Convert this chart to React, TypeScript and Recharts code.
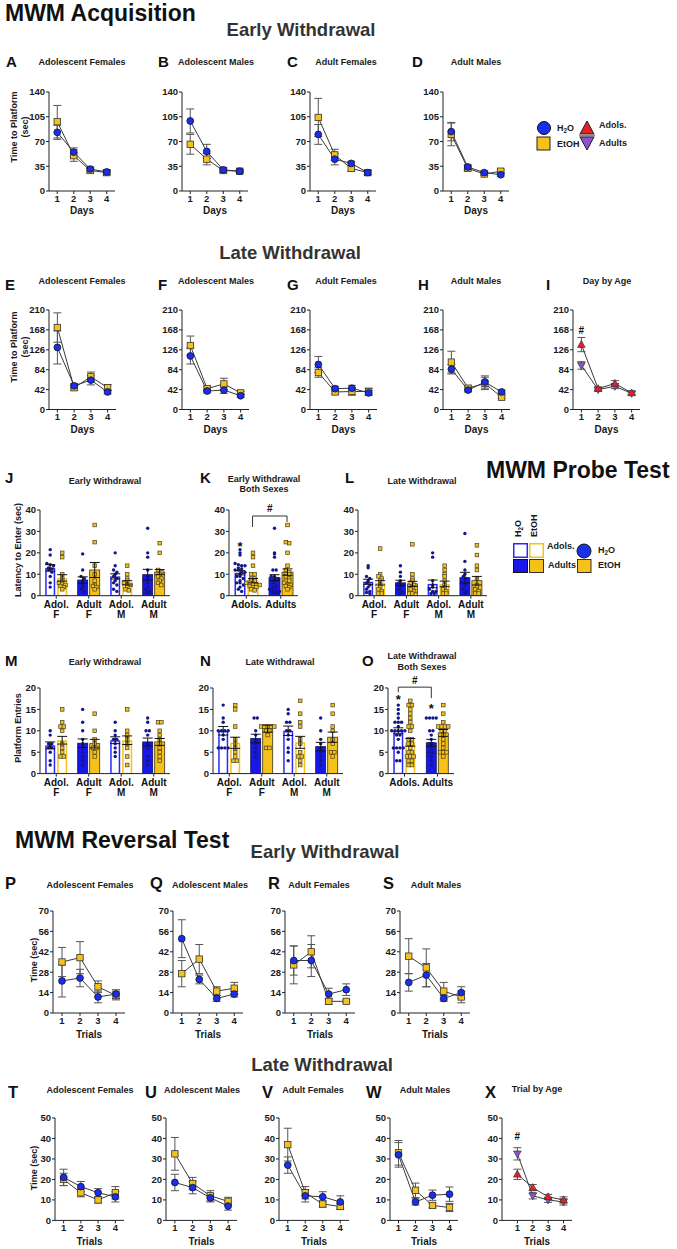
import React from "react";
import {
  LineChart,
  Line,
  XAxis,
  YAxis,
  ErrorBar,
  ComposedChart,
  Bar,
  ReferenceDot,
  ReferenceLine,
} from "recharts";

const FONT = '"Liberation Sans", Arial, Helvetica, sans-serif';

// ---------- line panels: [mean, sem] per day / trial ----------
const days = [1, 2, 3, 4];

// MWM acquisition, early withdrawal
const A_h2o = [[83, 10], [55, 6], [31, 3], [27, 3]];
const A_etoh = [[98, 23], [50, 8], [29, 3], [26, 3]];
const B_h2o = [[99, 17], [56, 10], [30, 3], [28, 2]];
const B_etoh = [[66, 14], [45, 8], [29, 3], [28, 2]];
const C_h2o = [[80, 14], [45, 8], [39, 3], [26, 3]];
const C_etoh = [[104, 27], [51, 8], [32, 4], [26, 3]];
const D_h2o = [[84, 13], [34, 3], [26, 2], [23, 2]];
const D_etoh = [[80, 16], [32, 3], [24, 2], [28, 2]];

// MWM acquisition, late withdrawal
const E_h2o = [[131, 35], [50, 5], [62, 10], [37, 4]];
const E_etoh = [[173, 31], [46, 5], [69, 10], [46, 6]];
const F_h2o = [[113, 17], [39, 4], [41, 7], [29, 3]];
const F_etoh = [[135, 20], [44, 4], [54, 12], [35, 3]];
const G_h2o = [[95, 17], [44, 5], [45, 6], [35, 5]];
const G_etoh = [[78, 10], [37, 4], [38, 8], [38, 7]];
const H_h2o = [[85, 10], [41, 4], [58, 13], [37, 4]];
const H_etoh = [[100, 23], [45, 4], [55, 13], [26, 3]];
const I_adols = [[137, 15], [44, 3], [55, 6], [35, 3]];
const I_adults = [[93, 8], [42, 3], [49, 5], [34, 3]];

// reversal, early withdrawal
const P_h2o = [[22, 11], [24, 6], [11, 4], [13, 3]];
const P_etoh = [[35, 10], [38, 11], [18, 4], [12, 3]];
const Q_h2o = [[51, 13], [23, 3], [10, 2], [13, 2]];
const Q_etoh = [[27, 9], [37, 10], [15, 3], [17, 4]];
const R_h2o = [[36, 10], [36, 11], [13, 4], [16, 4]];
const R_etoh = [[33, 13], [42, 11], [8, 2], [8, 1]];
const S_h2o = [[21, 6], [26, 8], [10, 2], [14, 4]];
const S_etoh = [[39, 12], [31, 13], [15, 6], [11, 4]];

// reversal, late withdrawal
const T_h2o = [[21, 4], [16.5, 2.5], [13.5, 2], [11.5, 2.5]];
const T_etoh = [[20, 3], [13.5, 2], [10, 1.5], [13.5, 3]];
const U_h2o = [[18.5, 4], [16, 3], [11, 2], [7, 2]];
const U_etoh = [[32.5, 8], [18, 3], [12, 2.5], [9.3, 2]];
const V_h2o = [[27, 4], [12, 3], [11.5, 2.5], [9, 3]];
const V_etoh = [[37, 8], [13.5, 3], [8, 1.5], [6.8, 1.5]];
const W_h2o = [[32, 6], [9, 1.5], [12.3, 2.5], [12.8, 3.5]];
const W_etoh = [[33, 6], [14.7, 3.5], [7.3, 1.2], [6.3, 2]];
const X_adols = [[22.5, 2.5], [16, 1.5], [11.5, 1.2], [10, 1.5]];
const X_adults = [[32.5, 3], [12, 1.5], [10, 1.2], [9, 1.5]];

// ---------- probe test bars (order: H2O, EtOH per group) ----------
const sexGroups = ["Adol.|F", "Adult|F", "Adol.|M", "Adult|M"];
const ageGroups = ["Adols.", "Adults"];

const J_means = [13, 8.3, 7.3, 12, 9, 6, 9.8, 11];
const J_sems = [1.5, 1.5, 1.5, 3.5, 1.2, 1, 2.5, 1.2];
const J_points = [
  [21.5, 19, 15, 14.5, 14, 13, 12.5, 12, 11, 9, 6, 4],
  [20, 18, 10, 8, 7, 6, 5.5, 5, 4.5, 4, 3],
  [19.5, 12, 9, 8, 7, 5, 4, 3, 2],
  [33, 25, 14, 10, 7, 5, 4.5, 4, 3],
  [20, 14, 12, 11, 10, 9, 8, 7, 6, 5, 3, 2],
  [14, 10, 8, 7, 6, 5, 5, 4, 3, 2.5],
  [31.5, 20, 18, 12, 9, 6, 4, 3, 2, 1.5, 1],
  [24.5, 20, 12, 11, 10, 9, 8, 7, 6, 5],
];

const K_means = [10.7, 7, 8.4, 11];
const K_sems = [1, 1, 1.4, 1.5];
const K_points = [
  [21.5, 20, 19, 15, 14.5, 14, 14, 13, 12.5, 12, 12, 11, 11, 10, 9, 9, 8, 7, 6, 6, 5, 4, 3, 2],
  [20, 18, 14, 10, 10, 8, 8, 7, 7, 6, 6, 5.5, 5, 5, 4.5, 4, 4, 3, 2.5],
  [31.5, 20, 19.5, 18, 12, 12, 9, 9, 8, 7, 6, 5, 4, 4, 3, 3, 2, 2, 1.5, 1],
  [33, 25, 24.5, 20, 14, 12, 11, 10, 10, 9, 8, 7, 7, 6, 5, 5, 4.5, 4, 3],
];

const L_means = [6.5, 6, 6, 5.5, 5.5, 5.5, 8.4, 7];
const L_sems = [1.2, 1, 1.2, 1.2, 1.8, 1.3, 2.5, 2];
const L_points = [
  [14, 13, 9, 8, 7, 6, 5, 4, 3, 2, 1.5, 1],
  [22, 10, 9, 8, 7, 5, 4, 3, 2, 1, 1],
  [14, 11, 9, 7, 6, 5, 4, 3, 2, 1],
  [24, 10, 8, 7, 6, 5, 4, 3, 2, 1, 1, 0.5],
  [20, 18, 7, 5, 4, 3, 2, 2, 1, 1],
  [14, 12, 10, 9, 7, 5, 4, 3, 2, 1, 1],
  [29, 16, 12, 10, 9, 8, 5, 3, 2, 1],
  [23.5, 19, 14, 12, 8, 5, 4, 3, 2, 1, 1],
];

const M_means = [6.6, 7.8, 7.1, 7, 7.8, 7.8, 7.4, 7.4];
const M_sems = [0.8, 0.9, 1, 1, 0.8, 1, 0.9, 0.8];
const M_points = [
  [10, 9, 7, 7, 6.5, 6, 6, 5, 3, 2],
  [15, 12, 11, 11, 10, 7, 6, 5, 4, 4],
  [15, 12, 10, 8, 7, 6, 5, 4, 3, 2],
  [14, 10, 8, 7, 6, 6, 5, 4],
  [12, 10, 9, 8, 8, 7, 6, 5, 4],
  [15, 10, 9, 8, 7, 6, 4, 2],
  [13, 12, 10, 10, 9, 7, 6, 4, 3, 2],
  [12, 12, 10, 9, 8, 7, 6, 5, 4, 3],
];

const N_means = [10, 7.2, 8.2, 10.5, 10, 7.3, 6.3, 8.5];
const N_sems = [1, 1.3, 1, 0.8, 1.1, 1.4, 1, 1.2];
const N_points = [
  [16, 13, 12, 10, 10, 10, 10, 9, 8, 6, 6, 6, 6],
  [16, 15, 11, 8, 7, 6, 5, 4, 3, 3],
  [13, 13, 10, 9, 8, 7, 6, 5, 4],
  [11, 11, 11, 11, 11, 10, 10, 9, 6, 6],
  [15, 14, 12, 12, 10, 10, 9, 8, 6, 5, 3],
  [17, 14, 12, 11, 8, 7, 5, 4, 4, 3, 2],
  [13, 10, 8, 7, 6, 5, 4, 3, 2],
  [16, 14, 11, 10, 8, 7, 5, 5, 4],
];

const O_means = [10, 7.3, 7.2, 9.5];
const O_sems = [0.7, 0.9, 0.8, 0.8];
const O_points = [
  [16, 15, 14, 13, 12, 12, 12, 11, 10, 10, 10, 10, 10, 9, 9, 8, 6, 6, 6, 6, 5, 3, 3],
  [17, 16, 16, 15, 14, 13, 12, 11, 11, 10, 8, 8, 7, 7, 6, 5, 5, 4, 4, 4, 3, 3, 2, 2],
  [13, 13, 13, 13, 10, 10, 9, 8, 7, 7, 6, 5, 5, 4, 3, 2],
  [16, 14, 12, 11, 11, 11, 11, 10, 10, 9, 8, 7, 6, 5, 5, 5, 4],
];

// ---------- styles ----------
const BLUE = "#1a30e8";
const BAR_BLUE = "#1717e8";
const YELLOW = "#f6c21a";
const RED = "#e81e25";
const PURPLE = "#9050d2";
const tickStyle = { fontSize: 9.5, fontWeight: 700, fill: "#1a1a1a", fontFamily: FONT };

const circleDot = (p: any) => (
  <circle key={`c${p.index}`} cx={p.cx} cy={p.cy} r={3.4} fill={BLUE} stroke="#101030" strokeWidth={0.8} />
);
const squareDot = (p: any) => (
  <rect key={`s${p.index}`} x={p.cx - 3.2} y={p.cy - 3.2} width={6.4} height={6.4} fill={YELLOW} stroke="#333" strokeWidth={0.8} />
);
const triUp = (p: any) => (
  <path key={`u${p.index}`} d={`M${p.cx},${p.cy - 4}L${p.cx + 3.8},${p.cy + 2.8}L${p.cx - 3.8},${p.cy + 2.8}Z`} fill={RED} stroke="#333" strokeWidth={0.7} />
);
const triDown = (p: any) => (
  <path key={`d${p.index}`} d={`M${p.cx},${p.cy + 4}L${p.cx + 3.8},${p.cy - 2.8}L${p.cx - 3.8},${p.cy - 2.8}Z`} fill={PURPLE} stroke="#333" strokeWidth={0.7} />
);

const hashShape = (p: any) => (
  <text x={p.cx} y={p.cy + 3.5} textAnchor="middle" fontSize={10} fontWeight={700} fill="#111" fontFamily={FONT}>
    #
  </text>
);

type LineProps = {
  a: number[][];
  b: number[][];
  x: number;
  top: number;
  bottom: number;
  w: number;
  ticks: number[];
  age?: boolean;
  domain?: [number, number];
  hash?: number;
};

function LinePanel({ a, b, x, top, bottom, w, ticks, age, domain = [0.5, 4.5], hash }: LineProps) {
  const YW = 28, MT = 6, MR = 4, XH = 16;
  const h = bottom - top;
  const rows = days.map((d, i) => ({ day: d, s1: a[i][0], s1e: a[i][1], s2: b[i][0], s2e: b[i][1] }));
  return (
    <div style={{ position: "absolute", left: x - YW, top: top - MT }}>
      <LineChart width={YW + w + MR} height={MT + h + XH} data={rows} margin={{ top: MT, right: MR, left: 0, bottom: 0 }}>
        <XAxis type="number" dataKey="day" domain={domain} ticks={days} interval={0} allowDataOverflow height={XH} tickSize={3} tickMargin={1} tick={tickStyle} stroke="#222" />
        <YAxis domain={[0, ticks[ticks.length - 1]]} ticks={ticks} interval={0} allowDataOverflow width={YW} tickSize={3} tickMargin={1} tick={tickStyle} stroke="#222" />
        <Line dataKey="s2" stroke="#3a3a3a" strokeWidth={1} dot={age ? triDown : squareDot} activeDot={false} isAnimationActive={false}>
          <ErrorBar dataKey="s2e" width={4} stroke="#555" strokeWidth={1} direction="y" />
        </Line>
        <Line dataKey="s1" stroke="#3a3a3a" strokeWidth={1} dot={age ? triUp : circleDot} activeDot={false} isAnimationActive={false}>
          <ErrorBar dataKey="s1e" width={4} stroke="#555" strokeWidth={1} direction="y" />
        </Line>
        {hash !== undefined && <ReferenceDot x={1} y={hash} r={0} ifOverflow="visible" shape={hashShape} />}
      </LineChart>
    </div>
  );
}

// bar with its individual animals, spread sideways like a prism dot plot
const barShape = (key: "h2o" | "etoh") => (p: any) => {
  const { x, y, width, height, payload } = p;
  const mean: number = payload[key];
  const vals: number[] = payload[key + "Pts"];
  const base = y + height;
  const k = mean > 0 ? height / mean : 0;
  const isH = key === "h2o";
  const cx = x + width / 2;
  const pys = vals.map((v) => base - v * k);
  const bins: Record<number, number> = {};
  const seen: Record<number, number> = {};
  pys.forEach((py) => {
    const bn = Math.round(py / 3.2);
    bins[bn] = (bins[bn] || 0) + 1;
  });
  const pos = pys.map((py) => {
    const bn = Math.round(py / 3.2);
    const i = seen[bn] || 0;
    seen[bn] = i + 1;
    return { px: cx + (i - (bins[bn] - 1) / 2) * 3.3, py };
  });
  return (
    <g>
      {payload.adult ? (
        <rect x={x} y={y} width={width} height={height} fill={isH ? BAR_BLUE : YELLOW} stroke={isH ? "#111155" : "#3a3320"} strokeWidth={0.8} />
      ) : (
        <rect x={x + 0.75} y={y + 0.75} width={width - 1.5} height={Math.max(0, height - 0.75)} fill="#fff" stroke={isH ? "#2a2af5" : "#f3c21c"} strokeWidth={1.5} />
      )}
      {pos.map((q, i) =>
        isH ? (
          <circle key={i} cx={q.px} cy={q.py} r={1.7} fill="#16168a" />
        ) : (
          <rect key={i} x={q.px - 1.8} y={q.py - 1.8} width={3.6} height={3.6} fill="#f4c21b" stroke="#4a4020" strokeWidth={0.7} />
        )
      )}
    </g>
  );
};

const CatTick = (p: any) => {
  const lines = String(p.payload.value).split("|");
  return (
    <text x={p.x} y={p.y} textAnchor="middle" fontSize={10} fontWeight={700} fill="#111" fontFamily={FONT}>
      {lines.map((l, i) => (
        <tspan key={i} x={p.x} dy={i === 0 ? 8 : 10.5}>
          {l}
        </tspan>
      ))}
    </text>
  );
};

const bracketShape = (dx: number, legs: [number, number]) => (p: any) => {
  const { x1, y1, x2, y2 } = p;
  return (
    <g>
      <path d={`M${x1 + dx},${y1 + legs[0]}V${y1}H${x2 + dx}V${y2 + legs[1]}`} fill="none" stroke="#333" strokeWidth={1} />
      <text x={(x1 + x2) / 2 + dx} y={y1 - 3.5} textAnchor="middle" fontSize={10} fontWeight={700} fill="#111" fontFamily={FONT}>
        #
      </text>
    </g>
  );
};

const starShape = (dx: number) => (p: any) => (
  <text x={p.cx + dx} y={p.cy + 6} textAnchor="middle" fontSize={13} fontWeight={700} fill="#111" fontFamily={FONT}>
    *
  </text>
);

type BarProps = {
  labels: string[];
  means: number[];
  sems: number[];
  pts: number[][];
  x: number;
  top: number;
  bottom: number;
  w: number;
  ticks: number[];
  bracket?: { y: number; dx: number; legs: [number, number] };
  stars?: { g: string; y: number; dx: number }[];
};

function BarPanel({ labels, means, sems, pts, x, top, bottom, w, ticks, bracket, stars }: BarProps) {
  const YW = 26, MT = 16, MR = 4, XH = 30;
  const h = bottom - top;
  const rows = labels.map((l, i) => ({
    name: l,
    adult: l.startsWith("Adult"),
    h2o: means[2 * i],
    h2oE: sems[2 * i],
    h2oPts: pts[2 * i],
    etoh: means[2 * i + 1],
    etohE: sems[2 * i + 1],
    etohPts: pts[2 * i + 1],
  }));
  return (
    <div style={{ position: "absolute", left: x - YW, top: top - MT }}>
      <ComposedChart width={YW + w + MR} height={MT + h + XH} data={rows} margin={{ top: MT, right: MR, left: 0, bottom: 0 }} barGap={2} barCategoryGap="16%">
        <XAxis dataKey="name" type="category" interval={0} height={XH} tickSize={3} tickMargin={1} tick={<CatTick />} stroke="#222" />
        <YAxis domain={[0, ticks[ticks.length - 1]]} ticks={ticks} interval={0} allowDataOverflow width={YW} tickSize={3} tickMargin={1} tick={tickStyle} stroke="#222" />
        <Bar dataKey="h2o" shape={barShape("h2o")} isAnimationActive={false}>
          <ErrorBar dataKey="h2oE" width={5} stroke="#111" strokeWidth={1} />
        </Bar>
        <Bar dataKey="etoh" shape={barShape("etoh")} isAnimationActive={false}>
          <ErrorBar dataKey="etohE" width={5} stroke="#111" strokeWidth={1} />
        </Bar>
        {bracket && (
          <ReferenceLine
            segment={[{ x: labels[0], y: bracket.y }, { x: labels[1], y: bracket.y }]}
            ifOverflow="visible"
            shape={bracketShape(bracket.dx, bracket.legs)}
          />
        )}
        {(stars || []).map((s, i) => (
          <ReferenceDot key={i} x={s.g} y={s.y} r={0} ifOverflow="visible" shape={starShape(s.dx)} />
        ))}
      </ComposedChart>
    </div>
  );
}

// ---------- layout ----------
const acqTicks1 = [0, 35, 70, 105, 140];
const acqTicks2 = [0, 42, 84, 126, 168, 210];
const revTicks1 = [0, 14, 28, 42, 56, 70];
const revTicks2 = [0, 10, 20, 30, 40, 50];

const row1 = [
  { a: A_h2o, b: A_etoh, x: 49 },
  { a: B_h2o, b: B_etoh, x: 182 },
  { a: C_h2o, b: C_etoh, x: 310 },
  { a: D_h2o, b: D_etoh, x: 443 },
];
const row2 = [
  { a: E_h2o, b: E_etoh, x: 49 },
  { a: F_h2o, b: F_etoh, x: 182 },
  { a: G_h2o, b: G_etoh, x: 310 },
  { a: H_h2o, b: H_etoh, x: 443 },
];
const row5 = [
  { a: P_h2o, b: P_etoh, x: 53, w: 72 },
  { a: Q_h2o, b: Q_etoh, x: 173, w: 70 },
  { a: R_h2o, b: R_etoh, x: 285, w: 70 },
  { a: S_h2o, b: S_etoh, x: 400, w: 70 },
];
const row6 = [
  { a: T_h2o, b: T_etoh, x: 55, w: 69 },
  { a: U_h2o, b: U_etoh, x: 166, w: 71 },
  { a: V_h2o, b: V_etoh, x: 279, w: 70 },
  { a: W_h2o, b: W_etoh, x: 390, w: 68 },
];

const Txt = ({ x, y, s, size = 9, anchor = "middle", fill = "#1a1a1a", rot }: any) => (
  <text
    x={x}
    y={y}
    fontSize={size}
    fontWeight={700}
    textAnchor={anchor}
    fill={fill}
    fontFamily={FONT}
    transform={rot ? `rotate(-90 ${x} ${y})` : undefined}
  >
    {s}
  </text>
);

const H2O = ({ x, y, size = 9, anchor = "start", rot }: any) => (
  <text x={x} y={y} fontSize={size} fontWeight={700} textAnchor={anchor} fill="#1a1a1a" fontFamily={FONT} transform={rot ? `rotate(-90 ${x} ${y})` : undefined}>
    H<tspan dy={2} fontSize={size * 0.7}>2</tspan>
    <tspan dy={-2}>O</tspan>
  </text>
);

export default function App() {
  const letters: [string, number, number, number][] = [
    ["A", 6, 67, 15], ["B", 158, 67, 15], ["C", 287, 67, 15], ["D", 412, 67, 15],
    ["E", 5, 290, 15], ["F", 158, 290, 15], ["G", 287, 290, 15], ["H", 418, 290, 15], ["I", 546, 290, 15],
    ["J", 5, 483, 15], ["K", 200, 483, 15], ["L", 345, 483, 15],
    ["M", 5, 666, 15], ["N", 200, 666, 15], ["O", 362, 666, 15],
    ["P", 5, 889, 16.5], ["Q", 150, 889, 16.5], ["R", 268, 889, 16.5], ["S", 383, 889, 16.5],
    ["T", 8, 1098, 16.5], ["U", 145, 1098, 16.5], ["V", 262, 1098, 16.5], ["W", 366, 1098, 16.5], ["X", 485, 1098, 16.5],
  ];
  const titles: [string, number, number][] = [
    ["Adolescent Females", 82, 65], ["Adolescent Males", 216, 65], ["Adult Females", 346, 65], ["Adult Males", 476, 65],
    ["Adolescent Females", 82, 284], ["Adolescent Males", 216, 284], ["Adult Females", 346, 284], ["Adult Males", 476, 284], ["Day by Age", 607, 284],
    ["Early Withdrawal", 105, 484], ["Early Withdrawal", 264, 482], ["Both Sexes", 264, 492], ["Late Withdrawal", 422, 484],
    ["Early Withdrawal", 105, 665], ["Late Withdrawal", 280, 665], ["Late Withdrawal", 422, 659], ["Both Sexes", 422, 670],
    ["Adolescent Females", 90, 888], ["Adolescent Males", 210, 888], ["Adult Females", 319, 888], ["Adult Males", 436, 888],
    ["Adolescent Females", 90, 1093], ["Adolescent Males", 202, 1093], ["Adult Females", 313, 1093], ["Adult Males", 425, 1093], ["Trial by Age", 537, 1092],
  ];
  return (
    <div style={{ position: "absolute", left: 0, top: 0, width: 677, height: 1249, background: "#fff", overflow: "hidden" }}>
      <svg width={677} height={1249} style={{ position: "absolute", left: 0, top: 0 }}>
        <Txt x={5} y={21} s="MWM Acquisition" size={23} anchor="start" fill="#111" />
        <Txt x={301} y={36} s="Early Withdrawal" size={18.5} fill="#333" />
        <Txt x={290} y={259} s="Late Withdrawal" size={18.5} fill="#333" />
        <Txt x={486} y={478} s="MWM Probe Test" size={23} anchor="start" fill="#111" />
        <Txt x={15} y={848} s="MWM Reversal Test" size={23} anchor="start" fill="#111" />
        <Txt x={325} y={858} s="Early Withdrawal" size={18.5} fill="#333" />
        <Txt x={322} y={1071} s="Late Withdrawal" size={18.5} fill="#333" />

        {letters.map(([s, x, y, size], i) => (
          <Txt key={`l${i}`} x={x} y={y} s={s} size={size} anchor="start" fill="#111" />
        ))}
        {titles.map(([s, x, y], i) => (
          <Txt key={`t${i}`} x={x} y={y} s={s} size={9} />
        ))}

        {/* axis titles */}
        {row1.map((p, i) => <Txt key={`d1${i}`} x={p.x + 33} y={214} s="Days" size={10} />)}
        {[...row2.map((p) => p.x + 33.5), 573 + 33.5].map((cx, i) => <Txt key={`d2${i}`} x={cx} y={433} s="Days" size={10} />)}
        {row5.map((p, i) => <Txt key={`r5${i}`} x={p.x + p.w / 2} y={1038} s="Trials" size={10} />)}
        {[...row6.map((p) => p.x + p.w / 2), 502 + 35].map((cx, i) => <Txt key={`r6${i}`} x={cx} y={1245} s="Trials" size={10} />)}

        <Txt x={17} y={127} s="Time to Platform" size={9} rot />
        <Txt x={28} y={127} s="(sec)" size={9} rot />
        <Txt x={17} y={347} s="Time to Platform" size={9} rot />
        <Txt x={28} y={347} s="(sec)" size={9} rot />
        <Txt x={21} y={550} s="Latency to Enter (sec)" size={9} rot />
        <Txt x={21} y={728} s="Platform Entries" size={9} rot />
        <Txt x={37} y={960} s="Time (sec)" size={9} rot />
        <Txt x={37} y={1168} s="Time (sec)" size={9} rot />

        {/* acquisition legend */}
        <circle cx={544} cy={128} r={6.5} fill={BLUE} stroke="#111" strokeWidth={1} />
        <rect x={537} y={137} width={13} height={13} fill={YELLOW} stroke="#222" strokeWidth={1} />
        <H2O x={557} y={131} />
        <Txt x={557} y={147} s="EtOH" anchor="start" />
        <path d="M587,121L594,134L580,134Z" fill={RED} stroke="#222" strokeWidth={1} />
        <line x1={579} y1={135.5} x2={595} y2={135.5} stroke="#8a8a8a" strokeWidth={2} />
        <path d="M587,150L594,137L580,137Z" fill={PURPLE} stroke="#222" strokeWidth={1} />
        <Txt x={599} y={128} s="Adols." anchor="start" />
        <Txt x={599} y={146} s="Adults" anchor="start" />

        {/* probe legend */}
        <H2O x={521} y={537} rot />
        <Txt x={537} y={537} s="EtOH" anchor="start" rot />
        <rect x={513.75} y={543.75} width={13.5} height={13.5} fill="#fff" stroke="#2a2af5" strokeWidth={1.5} />
        <rect x={529.75} y={543.75} width={13.5} height={13.5} fill="#fff" stroke="#f3c21c" strokeWidth={1.5} />
        <Txt x={547} y={549} s="Adols." anchor="start" />
        <rect x={513.5} y={559.5} width={14} height={13} fill={BAR_BLUE} stroke="#111" strokeWidth={1} />
        <rect x={529.5} y={559.5} width={14} height={13} fill={YELLOW} stroke="#333" strokeWidth={1} />
        <Txt x={548} y={568} s="Adults" anchor="start" />
        <circle cx={584} cy={551} r={7} fill={BLUE} stroke="#111" strokeWidth={1} />
        <H2O x={598} y={553} />
        <rect x={577.5} y={559.5} width={13.5} height={13} fill={YELLOW} stroke="#333" strokeWidth={1} />
        <Txt x={598} y={568} s="EtOH" anchor="start" />
      </svg>

      {row1.map((p, i) => (
        <LinePanel key={`r1${i}`} a={p.a} b={p.b} x={p.x} top={91.5} bottom={190.5} w={66} ticks={acqTicks1} />
      ))}
      {row2.map((p, i) => (
        <LinePanel key={`r2${i}`} a={p.a} b={p.b} x={p.x} top={310} bottom={409.5} w={67} ticks={acqTicks2} />
      ))}
      <LinePanel a={I_adols} b={I_adults} x={573} top={310} bottom={409.5} w={67} ticks={acqTicks2} age hash={166} />

      <BarPanel labels={sexGroups} means={J_means} sems={J_sems} pts={J_points} x={40} top={510} bottom={595.7} w={130} ticks={[0, 10, 20, 30, 40]} />
      <BarPanel
        labels={ageGroups}
        means={K_means}
        sems={K_sems}
        pts={K_points}
        x={229}
        top={510}
        bottom={595.7}
        w={69}
        ticks={[0, 10, 20, 30, 40]}
        bracket={{ y: 37.2, dx: 6.3, legs: [11, 6] }}
        stars={[{ g: "Adols.", y: 23.7, dx: -6.3 }]}
      />
      <BarPanel labels={sexGroups} means={L_means} sems={L_sems} pts={L_points} x={358} top={510} bottom={595.7} w={129} ticks={[0, 10, 20, 30, 40]} />

      <BarPanel labels={sexGroups} means={M_means} sems={M_sems} pts={M_points} x={40} top={687.7} bottom={773.3} w={130} ticks={[0, 5, 10, 15, 20]} />
      <BarPanel labels={sexGroups} means={N_means} sems={N_sems} pts={N_points} x={213} top={687.7} bottom={773.3} w={130} ticks={[0, 5, 10, 15, 20]} />
      <BarPanel
        labels={ageGroups}
        means={O_means}
        sems={O_sems}
        pts={O_points}
        x={388}
        top={687.7}
        bottom={773.3}
        w={66}
        ticks={[0, 5, 10, 15, 20]}
        bracket={{ y: 20.2, dx: -6.2, legs: [5, 11] }}
        stars={[
          { g: "Adols.", y: 17.6, dx: -6.2 },
          { g: "Adults", y: 15.5, dx: -6.2 },
        ]}
      />

      {row5.map((p, i) => (
        <LinePanel key={`r5${i}`} a={p.a} b={p.b} x={p.x} top={911} bottom={1013} w={p.w} ticks={revTicks1} />
      ))}
      {row6.map((p, i) => (
        <LinePanel key={`r6${i}`} a={p.a} b={p.b} x={p.x} top={1118.3} bottom={1220.7} w={p.w} ticks={revTicks2} />
      ))}
      <LinePanel a={X_adols} b={X_adults} x={502} top={1118.3} bottom={1220.7} w={70} ticks={revTicks2} age domain={[0, 4.55]} hash={41} />
    </div>
  );
}
